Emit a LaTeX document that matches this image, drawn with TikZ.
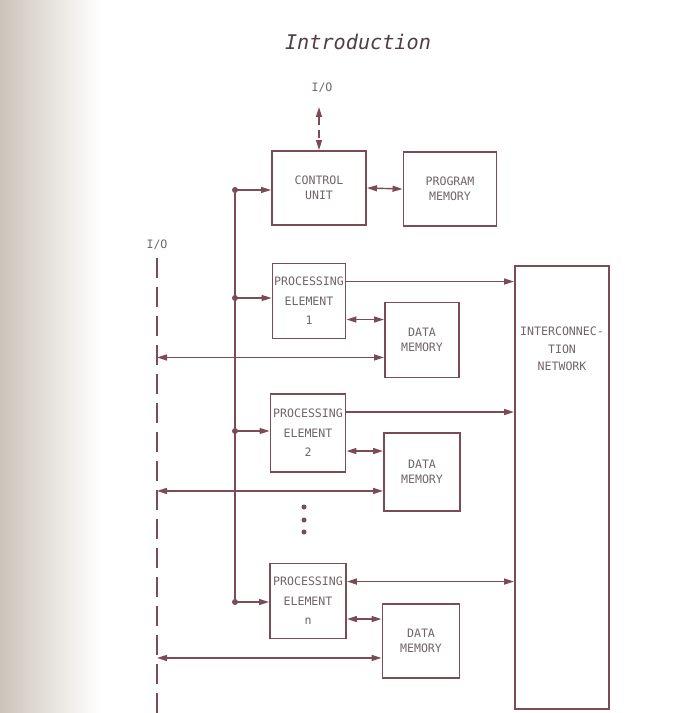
\documentclass[tikz,border=0pt]{standalone}
\usepackage{fontspec}
\newfontfamily\lblfont{DejaVu Sans Mono}
\newfontfamily\ttlfont{DejaVu Sans Mono}
\definecolor{ink}{RGB}{122,76,86}
\definecolor{inktxt}{RGB}{112,100,106}
\definecolor{ttlcol}{RGB}{80,62,66}
\definecolor{scan}{RGB}{204,196,186}
\usetikzlibrary{arrows.meta, calc}
\tikzset{
  bx/.style 2 args={draw=ink, line width=1.1pt, minimum width=#1, minimum height=#2,
              inner sep=0pt, align=center, text=inktxt,
              font=\lblfont\fontsize{6.6}{8.5}\selectfont},
  lbl/.style={text=inktxt, align=center, font=\lblfont\fontsize{6.6}{9.5}\selectfont},
  arr/.style={-{Triangle[length=2mm,width=1.2mm]}, draw=ink, line width=0.8pt},
  darr/.style={{Triangle[length=2mm,width=1.2mm]}-{Triangle[length=2mm,width=1.2mm]},
               draw=ink, line width=0.8pt},
  busdot/.style={circle, fill=ink, inner sep=0pt, minimum size=1.2mm},
}
\begin{document}
\begin{tikzpicture}[x=0.2mm, y=-0.2mm]
  \useasboundingbox (0,0) rectangle (696,713);
  % scanned page shadow on the left
  \shade[left color=scan, middle color=scan!45, right color=white] (0,0) rectangle (100,713);
  \node[font=\ttlfont\itshape\fontsize{11.5}{12}\selectfont, text=ttlcol] (ttl) at (358,42) {Introduction};

  % control part
  \node[bx={18.8mm}{14.8mm}] (cu) at (319,188) {CONTROL\\UNIT};
  \node[bx={18.6mm}{14.8mm}] (pm) at (450,189) {PROGRAM\\MEMORY};
  \node[lbl] (iotop) at (322,88) {I/O};
  \draw[darr, dash pattern=on 1.6mm off 1mm, shorten <=1.6mm] (iotop.south -| cu.north) -- (cu.north);
  \draw[darr] (cu.east) -- (pm.west);

  % processing elements and data memories
  \node[bx={14.6mm}{15mm}, font=\lblfont\fontsize{6.6}{11}\selectfont] (pe1) at (309,301) {PROCESSING\\ELEMENT\\1};
  \node[bx={14.8mm}{15mm}] (dm1) at (422,340) {DATA\\MEMORY};
  \node[bx={15mm}{15.6mm}, font=\lblfont\fontsize{6.6}{11}\selectfont] (pe2) at (308,433) {PROCESSING\\ELEMENT\\2};
  \node[bx={15.2mm}{15.6mm}] (dm2) at (422,472) {DATA\\MEMORY};
  \node[bx={15.2mm}{15mm}, font=\lblfont\fontsize{6.6}{11}\selectfont] (pen) at (308,601) {PROCESSING\\ELEMENT\\n};
  \node[bx={15.4mm}{14.8mm}] (dmn) at (421,641) {DATA\\MEMORY};
  \foreach \yy in {507,520,532}
    \fill[ink] (304,\yy) circle (0.5mm);

  % interconnection network
  \node[bx={18.8mm}{88.6mm}] (net) at (562,487.5) {};
  \node[lbl, font=\lblfont\fontsize{6.6}{10}\selectfont] (nettxt) at (562,349) {INTERCONNEC-\\TION\\NETWORK};

  % control bus
  \node[busdot] (b0) at (235,190) {};
  \node[busdot] (b1) at (235,298) {};
  \node[busdot] (b2) at (235,431) {};
  \node[busdot] (b3) at (235,602) {};
  \draw[ink, line width=0.8pt] (b0.center) -- (b3.center);
  \draw[arr] (b0.center) -- (b0 -| cu.west);
  \draw[arr] (b1.center) -- (b1 -| pe1.west);
  \draw[arr] (b2.center) -- (b2 -| pe2.west);
  \draw[arr] (b3.center) -- (b3 -| pen.west);

  % links to the network
  \coordinate (n1) at ([yshift=-3.8mm]pe1.north east);
  \coordinate (n2) at ([yshift=-3.8mm]pe2.north east);
  \coordinate (n3) at ([yshift=-3.8mm]pen.north east);
  \draw[arr] (n1) -- (n1 -| net.west);
  \draw[arr] (n2) -- (n2 -| net.west);
  \draw[darr] (n3) -- (n3 -| net.west);

  % processing element <-> data memory
  \coordinate (m1) at ([yshift=-3.6mm]dm1.north west);
  \coordinate (m2) at ([yshift=-3.8mm]dm2.north west);
  \coordinate (m3) at ([yshift=-3.2mm]dmn.north west);
  \draw[darr] (m1 -| pe1.east) -- (m1);
  \draw[darr] (m2 -| pe2.east) -- (m2);
  \draw[darr] (m3 -| pen.east) -- (m3);

  % I/O bus
  \node[lbl] (iol) at (157,245) {I/O};
  \coordinate (iob1) at (157,258);
  \coordinate (iob2) at (157,713);
  \draw[ink, line width=1.7pt, dash pattern=on 4mm off 1.8mm] (iob1) -- (iob2);
  \coordinate (d1) at ([yshift=4.2mm]dm1.south west);
  \coordinate (d2) at ([yshift=4.2mm]dm2.south west);
  \coordinate (d3) at ([yshift=4.2mm]dmn.south west);
  \draw[darr] (d1 -| iob1) -- (d1);
  \draw[darr] (d2 -| iob1) -- (d2);
  \draw[darr] (d3 -| iob1) -- (d3);
\end{tikzpicture}
\end{document}
